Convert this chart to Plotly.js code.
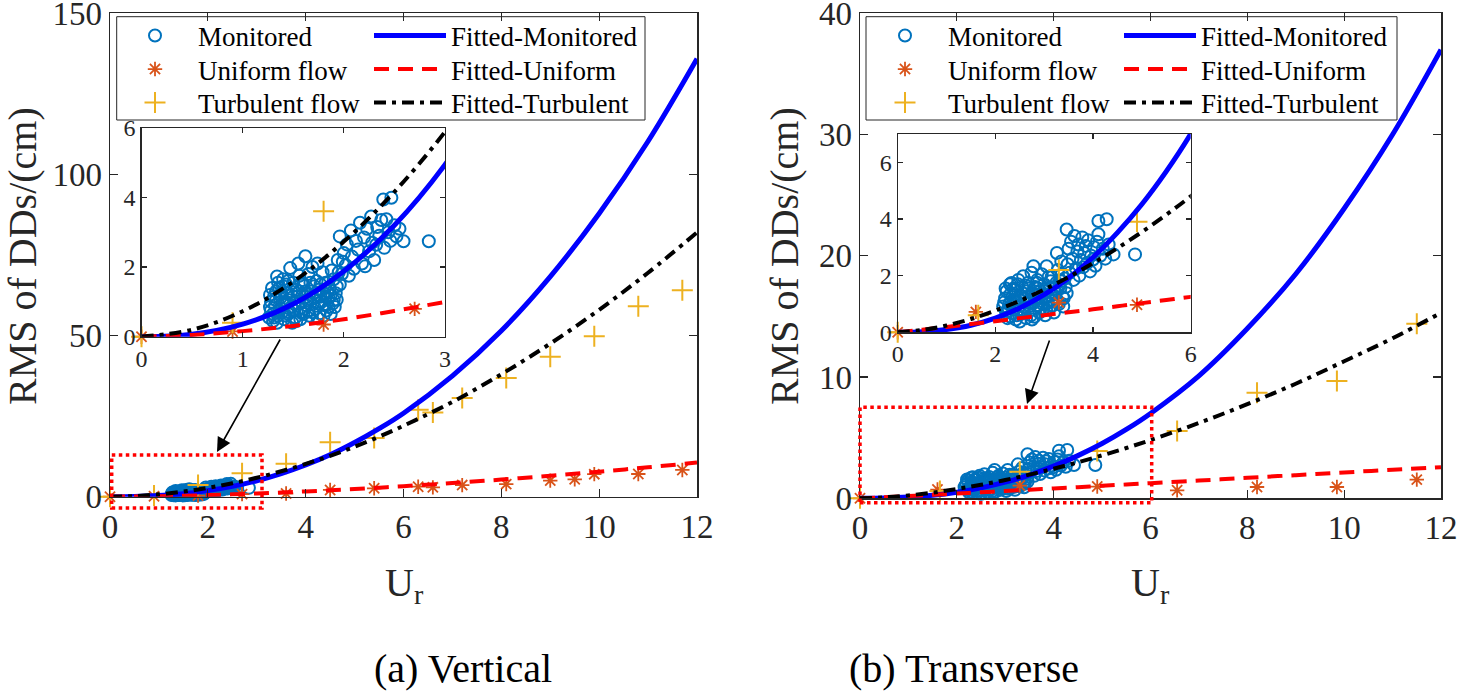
<!DOCTYPE html>
<html><head><meta charset="utf-8">
<script src="https://cdn.plot.ly/plotly-3.0.1.min.js"></script>
<style>html,body{margin:0;padding:0;background:#fff}#chart{width:1459px;height:691px}</style>
</head><body><div id="chart"></div>
<script>
// ---------- DATA ----------
const curveUr = [0,0.5,1,1.5,2,2.5,3,3.5,4,4.5,5,5.5,6,7,8,9,10,11,12];
// (a) Vertical
const vFitMonitored = [0,0.07,0.36,0.94,1.88,3.2,4.94,7.15,9.83,13.0,16.8,21.1,25.9,37.5,51.5,68.3,87.9,110.3,135.9];
const vFitUniform   = [0,0.05,0.16,0.31,0.5,0.74,1.0,1.3,1.64,2.0,2.39,2.81,3.27,4.24,5.32,6.49,7.77,9.13,10.6];
const vFitTurbulent = [0,0.2,0.73,1.58,2.73,4.16,5.88,7.89,10.17,12.7,15.5,18.6,22.0,29.4,38.0,47.5,58.0,69.5,82.0];
const vUniformUr  = [0,0.9,1.8,2.7,3.6,4.5,5.4,6.3,6.6,7.2,8.1,9.0,9.5,9.9,10.8,11.7];
const vUniformRms = [0,0.15,0.35,0.8,1.0,2.1,2.6,3.1,2.9,3.6,3.9,5.0,5.4,7.0,7.05,8.3];
const vTurbUr  = [0,0.9,1.8,2.7,3.6,4.5,5.4,6.3,6.6,7.2,8.1,9.0,9.9,10.8,11.7];
const vTurbRms = [0,0.4,3.6,7.3,10.2,16.9,18.2,27.0,26.1,30.6,36.8,43.4,49.8,59.1,64.1];
const vMonUr = [1.26,1.28,1.28,1.27,1.30,1.32,1.33,1.34,1.35,1.37,1.38,1.40,1.41,1.42,1.44,1.45,1.47,1.48,1.50,1.50,
  1.52,1.53,1.55,1.56,1.58,1.59,1.60,1.62,1.63,1.64,1.65,1.66,1.68,1.69,1.70,1.72,1.73,1.74,1.75,1.76,
  1.78,1.79,1.80,1.82,1.83,1.85,1.86,1.88,1.89,1.90,1.92,1.93,1.94,1.96,1.96,
  1.30,1.31,1.34,1.36,1.39,1.43,1.46,1.49,1.51,1.54,1.57,1.61,1.62,1.67,1.71,1.74,1.77,1.81,1.84,1.87,1.91,1.45,1.55,1.40,1.35,
  1.27,1.29,1.31,1.33,1.36,1.38,1.41,1.43,1.46,1.48,1.51,1.53,1.56,1.58,1.60,1.63,1.65,1.67,1.69,1.72,
  1.75,1.77,1.80,1.82,1.85,1.87,1.90,1.93,1.95,1.99,
  1.98,2.00,2.02,2.03,2.05,2.07,2.08,2.10,2.12,2.14,2.16,2.18,2.20,2.21,2.23,2.25,2.27,2.28,2.30,2.32,
  2.33,2.35,2.37,2.39,2.40,2.42,2.44,2.46,2.47,2.50,2.52,2.55,2.59,2.84];
const vMonRms = [0.55,0.75,1.00,1.20,0.45,0.90,1.30,1.73,0.60,1.10,0.80,1.45,0.50,1.00,1.25,0.65,1.97,0.85,1.15,1.55,
  0.55,1.35,0.95,1.75,0.70,1.20,1.50,2.31,0.90,1.05,1.80,0.60,1.30,2.00,1.10,0.80,1.60,2.10,1.35,0.67,
  1.00,1.85,1.25,1.55,0.75,1.10,1.40,1.90,0.95,1.65,1.25,1.06,2.20,1.50,2.88,
  0.65,1.15,0.40,1.40,0.70,0.60,1.05,0.40,0.75,1.15,0.50,0.80,1.30,0.95,1.45,0.55,1.15,0.90,1.30,0.65,0.85,1.60,2.10,1.65,1.55,
  0.85,1.40,0.55,1.05,0.75,1.25,0.90,1.50,0.70,1.30,0.95,0.45,1.30,1.55,0.65,1.15,0.75,1.55,0.70,1.20,
  0.95,1.50,0.60,1.15,0.85,1.20,1.05,1.45,1.85,2.15,
  1.80,2.40,2.05,2.65,1.75,3.05,2.30,1.95,2.75,2.50,3.27,2.10,2.85,2.02,3.10,2.45,3.45,2.70,2.20,2.64,
  3.15,2.90,3.35,3.94,2.55,3.37,3.00,2.75,3.99,3.20,2.88,3.10,2.74,2.74];
// (b) Transverse
const tFitMonitored = [0,0.02,0.1,0.25,0.5,0.86,1.33,1.92,2.65,3.52,4.52,5.68,7.0,10.1,14.0,18.5,23.9,30.0,37.0];
const tFitUniform   = [0,0.09,0.19,0.29,0.39,0.5,0.6,0.71,0.81,0.92,1.03,1.14,1.25,1.46,1.69,1.91,2.13,2.36,2.57];
const tFitTurbulent = [0,0.08,0.24,0.47,0.77,1.11,1.51,1.95,2.44,2.97,3.54,4.15,4.8,6.21,7.77,9.45,11.3,13.2,15.3];
const tUniformUr  = [0,1.6,3.3,4.9,6.55,8.2,9.85,11.5];
const tUniformRms = [0,0.72,1.05,0.97,0.66,0.93,0.93,1.54];
const tTurbUr  = [0,1.65,3.3,4.9,6.55,8.2,9.85,11.5];
const tTurbRms = [0,0.6,2.2,3.9,5.55,8.7,9.67,14.4];
const tMonUr = [2.16,2.20,2.22,2.23,2.25,2.28,2.30,2.30,2.33,2.35,2.38,2.40,2.42,2.45,2.47,2.50,2.50,2.53,2.55,2.57,
  2.58,2.60,2.63,2.65,2.67,2.70,2.72,2.74,2.76,2.78,2.80,2.82,2.84,2.86,2.88,2.90,2.92,2.95,2.97,3.00,
  3.02,3.05,3.07,3.10,3.12,3.15,3.17,3.20,3.22,3.25,3.26,3.28,3.30,3.33,3.35,3.38,3.39,3.42,3.46,3.46,
  2.25,2.32,2.37,2.44,2.48,2.56,2.62,2.68,2.75,2.81,2.87,2.93,2.99,3.06,3.13,3.18,3.24,3.31,3.36,3.40,
  2.18,2.21,2.27,2.31,2.36,2.41,2.46,2.52,2.54,2.59,2.64,2.69,2.73,2.79,2.85,2.89,2.94,3.01,3.04,3.09,
  3.14,3.21,3.27,3.34,3.44,
  3.48,3.50,3.52,3.55,3.58,3.60,3.62,3.65,3.68,3.70,3.72,3.75,3.78,3.80,3.82,3.85,3.88,3.90,3.94,3.96,
  4.00,4.02,4.05,4.08,4.11,4.11,4.15,4.20,4.25,4.28,4.32,4.42,4.86];
const tMonRms = [0.91,1.20,0.70,1.45,0.50,1.00,0.56,1.70,1.74,1.25,0.80,1.50,0.45,1.05,1.85,0.38,1.30,0.65,1.60,1.98,
  0.90,1.20,0.50,1.45,1.75,0.75,1.05,2.10,1.35,2.33,0.55,1.60,0.95,1.85,1.20,0.70,1.45,2.05,1.00,1.70,
  0.60,2.33,1.25,0.85,1.55,1.95,1.10,0.70,1.40,1.75,2.80,2.20,1.00,1.55,2.50,1.25,0.91,1.90,1.38,3.63,
  0.75,1.10,1.55,0.60,1.20,0.80,1.65,1.05,0.45,1.30,1.55,0.85,1.35,1.05,1.80,0.95,1.20,1.65,2.05,1.20,
  1.05,1.55,0.85,1.35,0.65,1.15,1.70,0.95,1.40,0.70,1.25,1.55,0.60,1.05,1.75,0.95,1.20,1.50,0.80,1.95,
  1.30,1.55,1.05,1.80,1.60,
  2.40,2.95,2.10,3.20,2.60,1.85,3.40,2.25,2.85,3.10,2.00,2.55,3.35,2.30,2.80,3.05,2.45,3.25,2.15,2.70,
  2.57,3.00,2.35,3.20,3.46,3.93,2.70,2.95,2.60,3.99,3.10,2.75,2.75];
const legendNames = ["Monitored","Uniform flow","Turbulent flow","Fitted-Monitored","Fitted-Uniform","Fitted-Turbulent"];
const xTicksMain = [0,2,4,6,8,10,12];

// ---------- STYLE / LAYOUT ----------
const W = 1459, H = 691;
const px = v => v / W, py = v => 1 - v / H;
const FONT = "Liberation Serif";
const AX = "#262626";
const cMon = "#0072BD", cUni = "#D95319", cTur = "#EDB120";

function panelTraces(xa, ya, mon, uni, tur, fits, legs, showLeg) {
  const t = [];
  t.push({x: mon[0], y: mon[1], xaxis: xa, yaxis: ya, mode: "markers", type: "scatter", name: legendNames[0],
    legend: legs[0], showlegend: showLeg, cliponaxis: false,
    marker: {symbol: "circle-open", size: 12, color: cMon, line: {color: cMon, width: 2}}});
  t.push({x: uni[0], y: uni[1], xaxis: xa, yaxis: ya, mode: "markers", type: "scatter", name: legendNames[1],
    legend: legs[1], showlegend: showLeg, cliponaxis: false,
    marker: {symbol: "asterisk-open", size: 12, color: cUni, line: {color: cUni, width: 1.8}}});
  t.push({x: tur[0], y: tur[1], xaxis: xa, yaxis: ya, mode: "markers", type: "scatter", name: legendNames[2],
    legend: legs[2], showlegend: showLeg, cliponaxis: false,
    marker: {symbol: "cross-thin-open", size: 15, color: cTur, line: {color: cTur, width: 2}}});
  t.push({x: curveUr, y: fits[0], xaxis: xa, yaxis: ya, mode: "lines", type: "scatter", name: legendNames[3],
    legend: legs[3], showlegend: showLeg, line: {color: "#0000FF", width: 5, shape: "spline"}});
  t.push({x: curveUr, y: fits[1], xaxis: xa, yaxis: ya, mode: "lines", type: "scatter", name: legendNames[4],
    legend: legs[4], showlegend: showLeg, line: {color: "#FF0000", width: 4, dash: "15px,9px", shape: "spline"}});
  t.push({x: curveUr, y: fits[2], xaxis: xa, yaxis: ya, mode: "lines", type: "scatter", name: legendNames[5],
    legend: legs[5], showlegend: showLeg, line: {color: "#000000", width: 4, dash: "12px,6px,4px,6px", shape: "spline"}});
  return t;
}

const vFits = [vFitMonitored, vFitUniform, vFitTurbulent];
const tFits = [tFitMonitored, tFitUniform, tFitTurbulent];
const legsA = ["legend", "legend2", "legend3", "legend4", "legend5", "legend6"];
const legsB = ["legend7", "legend8", "legend9", "legend10", "legend11", "legend12"];
const data = [].concat(
  panelTraces("x", "y", [vMonUr, vMonRms], [vUniformUr, vUniformRms], [vTurbUr, vTurbRms], vFits, legsA, true),
  panelTraces("x2", "y2", [tMonUr, tMonRms], [tUniformUr, tUniformRms], [tTurbUr, tTurbRms], tFits, legsB, true),
  panelTraces("x3", "y3", [vMonUr, vMonRms], [vUniformUr, vUniformRms], [vTurbUr, vTurbRms], vFits, legsA, false),
  panelTraces("x4", "y4", [tMonUr, tMonRms], [tUniformUr, tUniformRms], [tTurbUr, tTurbRms], tFits, legsB, false)
);

function axis(extra, main) {
  return Object.assign({
    showline: true, mirror: "ticks", linecolor: AX, linewidth: main ? 1.5 : 1.2,
    ticks: "inside", ticklen: main ? 8 : 5, tickwidth: 1.2, tickcolor: AX,
    showgrid: false, zeroline: false, automargin: false, fixedrange: true, ticklabeloverflow: "allow",
    tickfont: {family: FONT, size: main ? 33 : 24, color: AX}
  }, extra);
}

const rowY = [36, 69.5, 103];
function legendAt(textX, row, isLine) {
  const iw = isLine ? 72 : 76;
  return {x: px(textX - 40 - (iw - 30)), xanchor: "left", y: py(rowY[row]), yanchor: "middle",
    bgcolor: "rgba(0,0,0,0)", borderwidth: 0, font: {family: FONT, size: 27, color: "#000"},
    tracegroupgap: 0, itemclick: false, itemdoubleclick: false, itemwidth: iw};
}

const layout = {
  width: W, height: H, margin: {l: 0, r: 0, t: 0, b: 0},
  paper_bgcolor: "#fff", plot_bgcolor: "#fff",
  font: {family: FONT, color: AX},
  xaxis:  axis({domain: [px(110), px(697)], anchor: "y", range: [0, 12], tickvals: xTicksMain}, true),
  yaxis:  axis({domain: [py(496.7), py(13.3)], anchor: "x", range: [0, 150], tickvals: [0, 50, 100, 150]}, true),
  xaxis2: axis({domain: [px(860), px(1441)], anchor: "y2", range: [0, 12], tickvals: xTicksMain}, true),
  yaxis2: axis({domain: [py(498.3), py(13.3)], anchor: "x2", range: [0, 40], tickvals: [0, 10, 20, 30, 40]}, true),
  xaxis3: axis({domain: [px(141.5), px(445)], anchor: "y3", range: [0, 3], tickvals: [0, 1, 2, 3]}, false),
  yaxis3: axis({domain: [py(336.7), py(127.7)], anchor: "x3", range: [0, 6], tickvals: [0, 2, 4, 6]}, false),
  xaxis4: axis({domain: [px(897.7), px(1190.7)], anchor: "y4", range: [0, 6], tickvals: [0, 2, 4, 6]}, false),
  yaxis4: axis({domain: [py(332.3), py(134)], anchor: "x4", range: [0, 7], tickvals: [0, 2, 4, 6]}, false),
  legend:  legendAt(198, 0, false), legend2: legendAt(198, 1, false), legend3: legendAt(198, 2, false),
  legend4: legendAt(451, 0, true),  legend5: legendAt(451, 1, true),  legend6: legendAt(451, 2, true),
  legend7: legendAt(948, 0, false), legend8: legendAt(948, 1, false), legend9: legendAt(948, 2, false),
  legend10: legendAt(1201, 0, true), legend11: legendAt(1201, 1, true), legend12: legendAt(1201, 2, true),
  shapes: [
    {type: "rect", xref: "paper", yref: "paper", x0: px(116.7), x1: px(645), y0: py(120), y1: py(16.7),
      line: {color: AX, width: 1}, fillcolor: "#fff", layer: "below"},
    {type: "rect", xref: "paper", yref: "paper", x0: px(866), x1: px(1397), y0: py(120), y1: py(16.7),
      line: {color: AX, width: 1}, fillcolor: "#fff", layer: "below"},
    {type: "rect", xref: "paper", yref: "paper", x0: px(111.7), x1: px(262), y0: py(508), y1: py(455),
      line: {color: "#FF0000", width: 3.5, dash: "dot"}, layer: "above"},
    {type: "rect", xref: "paper", yref: "paper", x0: px(860), x1: px(1151.7), y0: py(502.7), y1: py(407.3),
      line: {color: "#FF0000", width: 3.5, dash: "dot"}, layer: "above"}
  ],
  annotations: [
    {xref: "paper", yref: "paper", x: px(217), y: py(452), ax: 64, ay: -114, showarrow: true, arrowhead: 2,
      arrowsize: 1.8, arrowwidth: 1.6, arrowcolor: "#000", text: ""},
    {xref: "paper", yref: "paper", x: px(1027), y: py(404), ax: 23, ay: -65, showarrow: true, arrowhead: 2,
      arrowsize: 1.8, arrowwidth: 1.6, arrowcolor: "#000", text: ""},
    {xref: "paper", yref: "paper", x: px(22), y: py(256), textangle: -90, showarrow: false,
      text: "RMS of DDs/(cm)", font: {family: FONT, size: 40, color: AX}, xanchor: "center", yanchor: "middle"},
    {xref: "paper", yref: "paper", x: px(784), y: py(256), textangle: -90, showarrow: false,
      text: "RMS of DDs/(cm)", font: {family: FONT, size: 40, color: AX}, xanchor: "center", yanchor: "middle"},
    {xref: "paper", yref: "paper", x: px(404), y: py(585), showarrow: false,
      text: "U<sub>r</sub>", font: {family: FONT, size: 40, color: AX}, xanchor: "center", yanchor: "middle"},
    {xref: "paper", yref: "paper", x: px(1150), y: py(585), showarrow: false,
      text: "U<sub>r</sub>", font: {family: FONT, size: 40, color: AX}, xanchor: "center", yanchor: "middle"},
    {xref: "paper", yref: "paper", x: px(463), y: py(668), showarrow: false,
      text: "(a) Vertical", font: {family: FONT, size: 40, color: "#000"}, xanchor: "center", yanchor: "middle"},
    {xref: "paper", yref: "paper", x: px(964), y: py(668), showarrow: false,
      text: "(b) Transverse", font: {family: FONT, size: 40, color: "#000"}, xanchor: "center", yanchor: "middle"}
  ],
  showlegend: true
};

Plotly.newPlot("chart", data, layout, {displayModeBar: false, staticPlot: true});
</script>
</body></html>
